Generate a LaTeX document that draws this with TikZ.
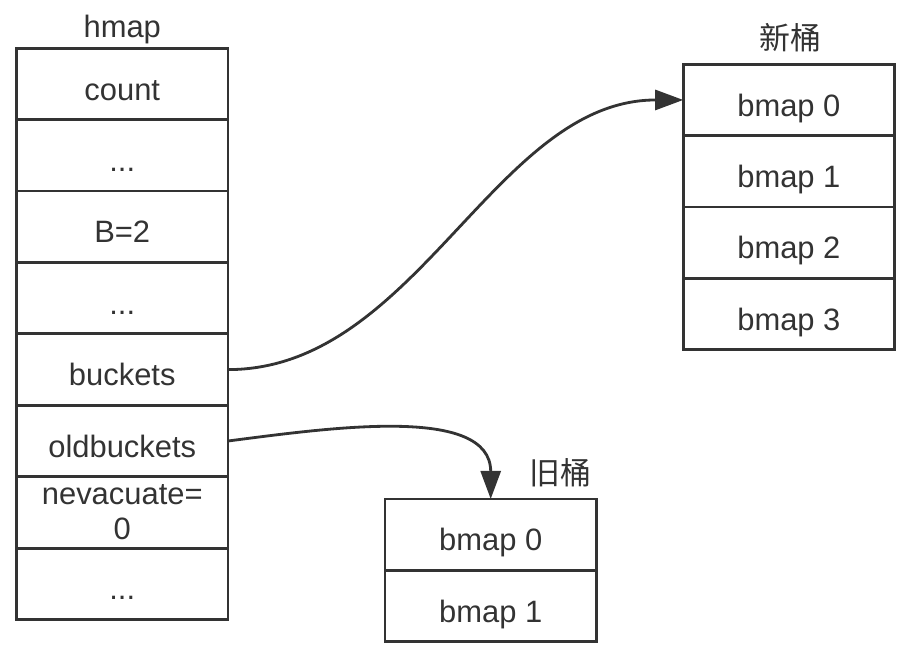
\documentclass[tikz,border=0pt]{standalone}
\usepackage{fontspec}
\setmainfont{Liberation Sans}
\newfontfamily\cjk{Noto Sans CJK SC}
\usetikzlibrary{arrows.meta}
\definecolor{ink}{HTML}{333333}

\begin{document}
\begin{tikzpicture}[
  cell/.style={draw=ink, line width=1.4pt, minimum width=3.7cm, minimum height=1.25cm,
    inner sep=0pt, outer sep=0pt, align=center, text=ink, text height=16pt, text depth=0pt,
    font=\fontsize{15.4}{17.5}\selectfont},
  lbl/.style={anchor=base, inner sep=0pt, text=ink, font=\fontsize{15.4}{17.5}\selectfont},
  arr/.style={-{Triangle[length=14pt, width=10pt]}, draw=ink, line width=1.4pt}
]
  \useasboundingbox (0,0) rectangle (16,-11.52);
  % hmap
  \node[lbl] (lhmap) at (2.14,-0.65) {hmap};
  \node[cell] (hcount)  at (2.14,-1.47)  {count};
  \node[cell] (hdotsa)  at (2.14,-2.72)  {...};
  \node[cell] (hb)      at (2.14,-3.97)  {B=2};
  \node[cell] (hdotsb)  at (2.14,-5.22)  {...};
  \node[cell] (hbuck)   at (2.14,-6.47)  {buckets};
  \node[cell] (holdb)   at (2.14,-7.72)  {oldbuckets};
  \node[cell, text height={}, text depth={}] (hnevac) at (2.14,-8.97) {nevacuate=\\0};
  \node[cell] (hdotsc)  at (2.14,-10.22) {...};
  % new buckets
  \node[lbl] (lnew) at (13.83,-0.875) {\cjk 新桶};
  \node[cell] (newa) at (13.81,-1.75) {bmap 0};
  \node[cell] (newb) at (13.81,-3.0)  {bmap 1};
  \node[cell] (newc) at (13.81,-4.25) {bmap 2};
  \node[cell] (newd) at (13.81,-5.5)  {bmap 3};
  % old buckets
  \node[lbl] (lold) at (9.81,-8.49) {\cjk 旧桶};
  \node[cell] (olda) at (8.59,-9.36)  {bmap 0};
  \node[cell] (oldb) at (8.59,-10.61) {bmap 1};
  \draw[arr] (hbuck.east) .. controls +(3.3,0) and +(-3.3,0) .. (newa.west);
  \draw[arr] (holdb.east) .. controls +(1.79,0.23) and +(0,1.65) .. (olda.north);
\end{tikzpicture}
\end{document}
